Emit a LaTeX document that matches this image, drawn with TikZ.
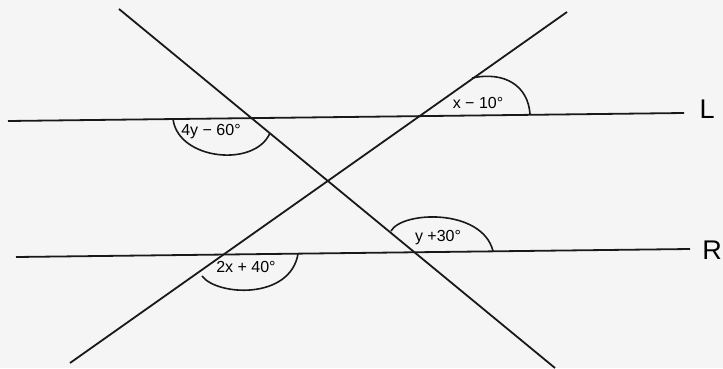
\documentclass[tikz,border=0pt]{standalone}
\usepackage{fontspec}
\setmainfont{Liberation Sans}
\usetikzlibrary{positioning}

\begin{document}
\begin{tikzpicture}[x=1pt, y=1pt,
  geo/.style={line width=1.8pt, black!90},
  angarc/.style={line width=1.6pt, black!90},
  ang/.style={font=\fontsize{16}{19}\selectfont, inner sep=0pt},
  lab/.style={font=\fontsize{27}{31}\selectfont, inner sep=0pt}]
\fill[black!4] (0,0) rectangle (723,368);
\useasboundingbox (0,0) rectangle (723,368);
% parallel lines and transversals
\coordinate (l1) at (8,247); \coordinate (l2) at (684,255);
\coordinate (r1) at (16,111); \coordinate (r2) at (690,119);
\coordinate (ta1) at (119,359); \coordinate (ta2) at (555,0);
\coordinate (tb1) at (70,5); \coordinate (tb2) at (567,356);
\draw[geo] (l1) -- (l2);
\draw[geo] (r1) -- (r2);
\draw[geo] (ta1) -- (ta2);
\draw[geo] (tb1) -- (tb2);
\node[lab] (L) at (707,259) {L};
\node[lab] (R) at (712,118) {R};
% angle marks
\draw[angarc] (173,249) .. controls (178,208) and (255,200) .. (270,235);
\draw[angarc] (472,290) .. controls (505,297) and (528,282) .. (530,254);
\draw[angarc] (391,137) .. controls (402,157) and (482,160) .. (493,117);
\draw[angarc] (202,92) .. controls (217,72) and (290,68) .. (298,114);
\node[ang] (a1) at (211,236) {4y − 60°};
\node[ang] (a2) at (478,265) {x − 10°};
\node[ang] (a3) at (438,130) {y +30°};
\node[ang] (a4) at (246,101) {2x + 40°};
\end{tikzpicture}
\end{document}
